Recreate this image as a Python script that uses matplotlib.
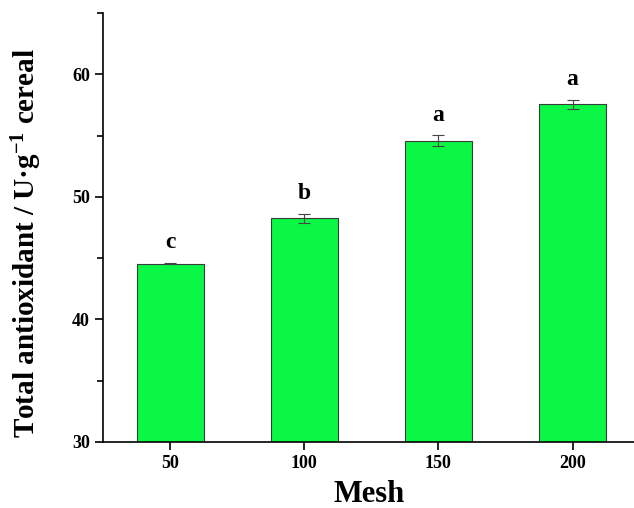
import numpy as np
import matplotlib.pyplot as plt
from matplotlib.ticker import MultipleLocator

# data
mesh = ['50', '100', '150', '200']
antioxidant = [44.55, 48.25, 54.6, 57.55]
err = [0.05, 0.38, 0.42, 0.38]
letters = ['c', 'b', 'a', 'a']

plt.rcParams['font.family'] = ['Liberation Serif', 'DejaVu Serif']
plt.rcParams['mathtext.fontset'] = 'custom'
plt.rcParams['mathtext.rm'] = 'Liberation Serif:bold'
plt.rcParams['mathtext.default'] = 'rm'

fig = plt.figure(figsize=(6.34, 5.08), dpi=100)
ax = fig.add_axes([0.1625, 0.13, 0.84, 0.844])

x = np.arange(len(mesh))
ax.bar(x, antioxidant, width=0.5, color='#0af745', edgecolor='#3a3a3a', linewidth=0.8,
       yerr=err, capsize=4, error_kw=dict(ecolor='#444444', elinewidth=0.8, capthick=0.8))

for xi, v, e, t in zip(x, antioxidant, err, letters):
    ax.annotate(t, (xi, v + e), xytext=(0, 7), textcoords='offset points',
                ha='center', va='bottom', fontsize=17, fontweight='bold')

ax.set_xlim(-0.5, 3.47)
ax.set_ylim(30, 65)
ax.set_xticks(x)
ax.set_xticklabels(mesh)
ax.yaxis.set_minor_locator(MultipleLocator(5))
ax.set_yticks([30, 40, 50, 60])

ax.spines['top'].set_visible(False)
ax.spines['right'].set_visible(False)
for s in ['left', 'bottom']:
    ax.spines[s].set_linewidth(1.2)
ax.tick_params(axis='both', which='major', direction='out', length=6, width=1.2, labelsize=13)
ax.tick_params(axis='y', which='minor', direction='out', length=4, width=1.2)
for lab in ax.get_xticklabels() + ax.get_yticklabels():
    lab.set_fontweight('bold')

ax.set_xlabel('Mesh', fontsize=22, fontweight='bold')
ax.xaxis.set_label_coords(0.5, -0.088)
ax.set_ylabel('Total antioxidant / U\u00b7g$^{-1}$ cereal', fontsize=21, fontweight='bold')
ax.yaxis.set_label_coords(-0.11, 0.465)

fig.savefig('out.png', dpi=100)
